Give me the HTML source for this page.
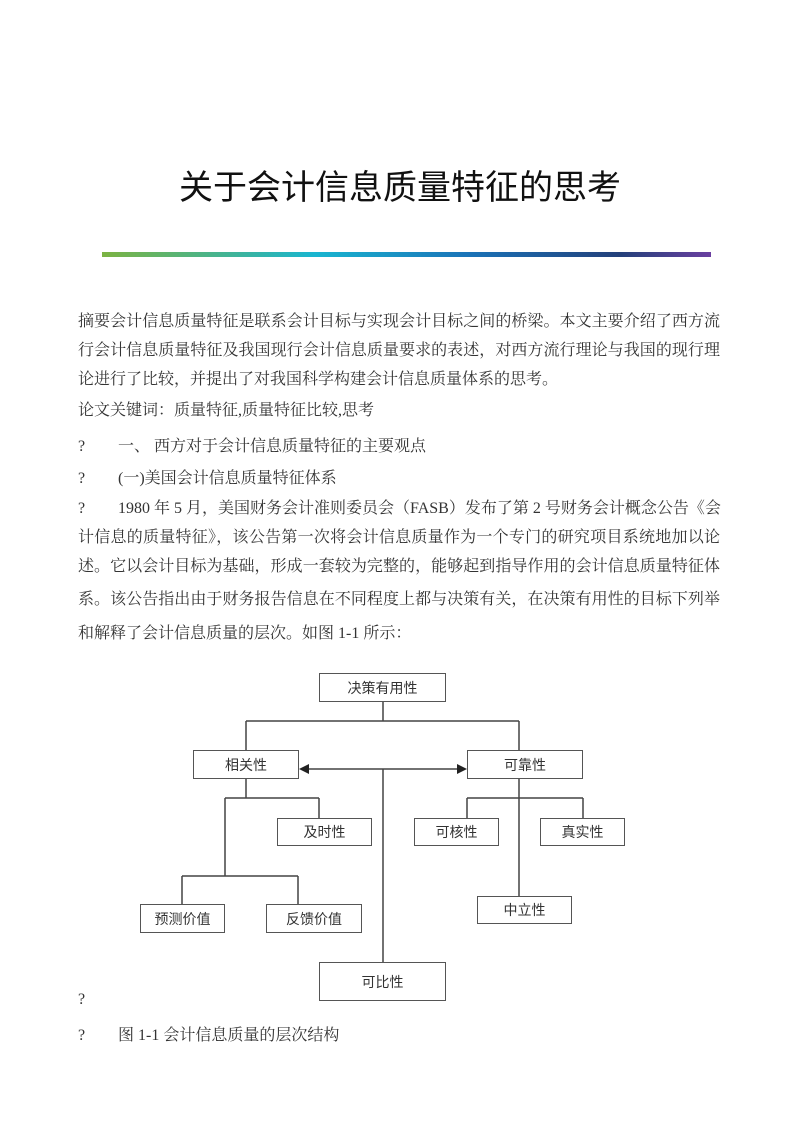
<!DOCTYPE html>
<html><head><meta charset="utf-8"><style>
body{margin:0;background:#fff;}
#p{position:relative;width:800px;height:1131px;overflow:hidden;font-family:"Liberation Serif","Noto Serif CJK SC",serif;color:#333;}
.t{position:absolute;left:0;width:800px;text-align:center;top:160px;font-size:34px;font-family:"Liberation Sans","Noto Sans CJK SC",sans-serif;font-weight:400;color:#111;}
.bar{position:absolute;left:102px;top:252px;width:609px;height:5px;background:linear-gradient(90deg,#7cb342,#19b5d0 35%,#1a73b8 60%,#23407a 85%,#6a3fa0);}
.l{position:absolute;left:78px;width:642px;font-size:16px;line-height:22px;white-space:nowrap;}
.j{text-align:justify;text-align-last:justify;}
.b{position:absolute;border:1.5px solid #555;box-sizing:border-box;font-family:"Liberation Sans","Noto Sans CJK SC",sans-serif;font-size:14px;color:#333;display:flex;align-items:center;justify-content:center;}
</style></head><body><div id="p">
<div class="t">关于会计信息质量特征的思考</div>
<div class="bar"></div>
<div class="l j" style="top:311px">摘要会计信息质量特征是联系会计目标与实现会计目标之间的桥梁。本文主要介绍了西方流</div>
<div class="l j" style="top:340px">行会计信息质量特征及我国现行会计信息质量要求的表述，对西方流行理论与我国的现行理</div>
<div class="l" style="top:369px">论进行了比较，并提出了对我国科学构建会计信息质量体系的思考。</div>
<div class="l" style="top:400px">论文关键词：质量特征,质量特征比较,思考</div>
<div class="l" style="top:436px">?<span style="position:absolute;left:40px">一、 西方对于会计信息质量特征的主要观点</span></div>
<div class="l" style="top:468px">?<span style="position:absolute;left:40px">(一)美国会计信息质量特征体系</span></div>
<div class="l" style="top:498px">?<span style="position:absolute;left:40px;width:602px;text-align:justify;text-align-last:justify">1980 年 5 月，美国财务会计准则委员会（FASB）发布了第 2 号财务会计概念公告《会</span></div>
<div class="l j" style="top:527px">计信息的质量特征》，该公告第一次将会计信息质量作为一个专门的研究项目系统地加以论</div>
<div class="l j" style="top:556px">述。它以会计目标为基础，形成一套较为完整的，能够起到指导作用的会计信息质量特征体</div>
<div class="l j" style="top:589px">系。该公告指出由于财务报告信息在不同程度上都与决策有关，在决策有用性的目标下列举</div>
<div class="l" style="top:623px">和解释了会计信息质量的层次。如图 1-1 所示：</div>
<div class="l" style="top:989px">?</div>
<div class="l" style="top:1025px">?<span style="position:absolute;left:40px">图 1-1 会计信息质量的层次结构</span></div>
<svg style="position:absolute;left:0;top:0" width="800" height="1131"><g stroke="#444" stroke-width="1.5" fill="none">
<path d="M383 702V721M246 721H519M246 721V750M519 721V750"/>
<path d="M306 769H460M383 769V962"/>
<path d="M246 779V798M225 798H319M319 798V818M225 798V876M182 876H298M182 876V904M298 876V904"/>
<path d="M519 779V896M467 798H583M467 798V818M583 798V818"/>
</g>
<polygon points="299,769 309,764 309,774" fill="#222"/>
<polygon points="467,769 457,764 457,774" fill="#222"/>
</svg>
<div class="b" style="left:319px;top:673px;width:127px;height:29px">决策有用性</div>
<div class="b" style="left:193px;top:750px;width:106px;height:29px">相关性</div>
<div class="b" style="left:467px;top:750px;width:116px;height:29px">可靠性</div>
<div class="b" style="left:277px;top:818px;width:95px;height:28px">及时性</div>
<div class="b" style="left:414px;top:818px;width:85px;height:28px">可核性</div>
<div class="b" style="left:540px;top:818px;width:85px;height:28px">真实性</div>
<div class="b" style="left:140px;top:904px;width:85px;height:29px">预测价值</div>
<div class="b" style="left:266px;top:904px;width:96px;height:29px">反馈价值</div>
<div class="b" style="left:477px;top:896px;width:95px;height:28px">中立性</div>
<div class="b" style="left:319px;top:962px;width:127px;height:39px">可比性</div>
</div></body></html>
